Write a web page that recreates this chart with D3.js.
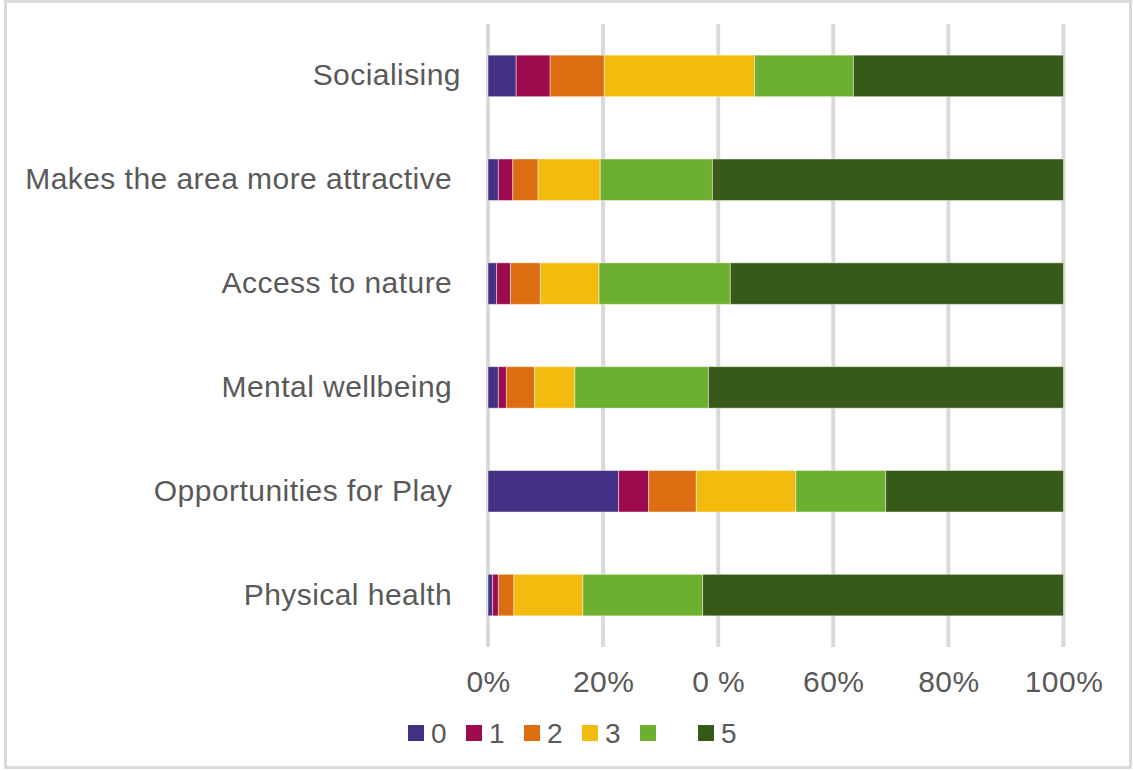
<!DOCTYPE html>
<html>
<head>
<meta charset="utf-8">
<script src="https://cdn.jsdelivr.net/npm/d3@7"></script>
<style>
  html, body { margin: 0; padding: 0; background: #fff; }
  svg { display: block; }
  text { font-family: "Liberation Sans", Arial, sans-serif; fill: #595959; }
</style>
</head>
<body>
<svg id="chart" width="1133" height="771"></svg>
<script>
// Survey benefits, share of responses for each rating 0–5
const categories = [
  "Socialising",
  "Makes the area more attractive ",
  "Access to nature ",
  "Mental wellbeing ",
  "Opportunities for Play ",
  "Physical health "
];
const ratingKeys = ["0", "1", "2", "3", "4", "5"];
const legendLabels = ["0", "1", "2", "3", "", "5"];
const ratingColors = ["#443085", "#9d0a4e", "#dc6d10", "#f2bb0d", "#6daf2f", "#385a18"];

// percentage of respondents per rating, one array per rating
const rating0 = [4.9, 1.8, 1.5, 1.8, 22.7, 0.8];
const rating1 = [5.9, 2.5, 2.4, 1.4, 5.2, 1.0];
const rating2 = [9.4, 4.4, 5.2, 4.9, 8.3, 2.7];
const rating3 = [26.1, 10.8, 10.2, 7.0, 17.3, 12.0];
const rating4 = [17.2, 19.5, 22.8, 23.2, 15.6, 20.8];
const rating5 = [36.5, 61.0, 57.9, 61.7, 30.9, 62.7];

const tickValues = [0, 0.2, 0.4, 0.6, 0.8, 1];
const tickLabels = ["0%", "20%", "0 %", "60%", "80%", "100%"];

const seriesValues = [rating0, rating1, rating2, rating3, rating4, rating5];
const rows = categories.map((c, i) => {
  const row = { category: c };
  const total = d3.sum(seriesValues, s => s[i]);
  ratingKeys.forEach((k, j) => { row[k] = seriesValues[j][i] / total; });
  return row;
});

const svg = d3.select("#chart");
const W = 1133, H = 771;

// outer frame
svg.append("rect")
  .attr("x", 5.5).attr("y", 1.5)
  .attr("width", W - 8).attr("height", H - 5)
  .attr("fill", "#fff")
  .attr("stroke", "#d9d9d9")
  .attr("stroke-width", 3);

const x = d3.scaleLinear().domain([0, 1]).range([488, 1063.5]);
const y = d3.scaleBand().domain(categories).range([24, 647])
  .paddingInner(0.6).paddingOuter(0.3);
const color = d3.scaleOrdinal().domain(ratingKeys).range(ratingColors);

// vertical gridlines
svg.append("g")
  .selectAll("line")
  .data(tickValues)
  .join("line")
  .attr("x1", d => x(d)).attr("x2", d => x(d))
  .attr("y1", 24).attr("y2", 647)
  .attr("stroke", "#d9d9d9")
  .attr("stroke-width", 4);

// stacked bars
const stacked = d3.stack().keys(ratingKeys)(rows);
svg.append("g")
  .selectAll("g")
  .data(stacked)
  .join("g")
  .attr("fill", d => color(d.key))
  .selectAll("rect")
  .data(d => d)
  .join("rect")
  .attr("x", d => x(d[0]))
  .attr("y", d => y(d.data.category))
  .attr("width", d => x(d[1]) - x(d[0]))
  .attr("height", y.bandwidth())
  .attr("stroke", "rgba(255,255,255,0.45)")
  .attr("stroke-width", 1);

// category axis labels
const yAxis = d3.axisLeft(y).tickSize(0).tickPadding(0);
const gy = svg.append("g")
  .attr("transform", "translate(461,-1)")
  .call(yAxis);
gy.select(".domain").remove();
gy.selectAll("text")
  .style("font-size", "30px")
  .style("letter-spacing", "0.45px")
  .style("white-space", "pre")
  .attr("fill", "#595959")
  .attr("dy", "0.35em");

// percentage axis labels
const xAxis = d3.axisBottom(x)
  .tickValues(tickValues)
  .tickFormat((d, i) => tickLabels[i])
  .tickSize(0).tickPadding(0);
const gx = svg.append("g")
  .attr("transform", "translate(0,681)")
  .call(xAxis);
gx.select(".domain").remove();
gx.selectAll("text")
  .style("font-size", "30px")
  .style("letter-spacing", "0.45px")
  .style("white-space", "pre")
  .attr("fill", "#595959")
  .attr("y", 0)
  .attr("dy", "0.35em");

// legend
const legend = svg.append("g").attr("transform", "translate(408,725)");
const item = legend.selectAll("g")
  .data(ratingKeys)
  .join("g")
  .attr("transform", (d, i) => `translate(${i * 58},0)`);
item.append("rect")
  .attr("width", 16).attr("height", 16)
  .attr("fill", d => color(d));
item.append("text")
  .attr("x", 23).attr("y", 8)
  .attr("dy", "0.35em")
  .style("font-size", "28px")
  .text((d, i) => legendLabels[i]);
</script>
</body>
</html>
